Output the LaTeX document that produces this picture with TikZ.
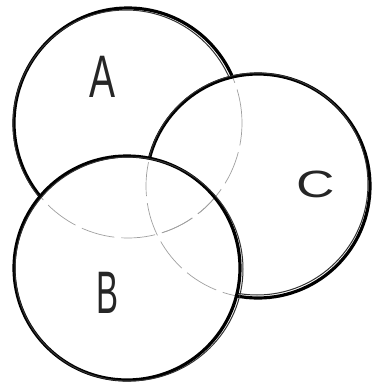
\documentclass[tikz,border=0pt]{standalone}
\usepackage{fontspec}
\setmainfont{Liberation Sans}
\begin{document}
\begin{tikzpicture}[x=1pt,y=-1pt,
  rim/.style={line width=3.2pt, black},
  rimb/.style={line width=1pt, black!80},
  hid/.style={line width=0.7pt, gray!75, dash pattern=on 34pt off 7pt},
  lab/.style={inner sep=0pt, text=black!85}]
\useasboundingbox (0,0) rectangle (373,383);
\coordinate (ca) at (128,123);
\coordinate (cb) at (127,268);
\coordinate (cc) at (258,186);
% hidden outlines
\begin{scope}
  \clip (cc) ellipse [x radius=112pt, y radius=112pt];
  \draw[hid] (ca) ellipse [x radius=114pt, y radius=115pt];
\end{scope}
\begin{scope}
  \clip (cb) ellipse [x radius=113pt, y radius=112pt];
  \draw[hid] (ca) ellipse [x radius=114pt, y radius=115pt];
  \draw[hid] (cc) ellipse [x radius=112pt, y radius=112pt];
\end{scope}
% visible outlines
\begin{scope}[even odd rule]
  \clip (-20,-20) rectangle (400,400) (cb) ellipse [x radius=113pt, y radius=112pt];
  \begin{scope}[even odd rule]
    \clip (-20,-20) rectangle (400,400) (cc) ellipse [x radius=112pt, y radius=112pt];
    \draw[rim] (ca) ellipse [x radius=114pt, y radius=115pt];
    \draw[rimb] ([shift={(-2,1)}]ca) ellipse [x radius=113pt, y radius=114pt];
  \end{scope}
  \draw[rim] (cc) ellipse [x radius=112pt, y radius=112pt];
  \draw[rimb] ([shift={(-1,-2)}]cc) ellipse [x radius=111pt, y radius=111pt];
\end{scope}
\draw[rim] (cb) ellipse [x radius=113pt, y radius=112pt];
\draw[rimb] ([shift={(2,1)}]cb) ellipse [x radius=114pt, y radius=112pt];
% labels
\node[lab] (la) at (103,77) {\fontsize{60}{60}\selectfont\scalebox{0.65}[1]{A}};
\node[lab] (lb) at (108,293) {\fontsize{60}{60}\selectfont\scalebox{0.55}[1]{B}};
\node[lab] (lc) at (316,184) {\fontsize{38}{38}\selectfont\scalebox{1.4}[1]{C}};
\end{tikzpicture}
\end{document}
